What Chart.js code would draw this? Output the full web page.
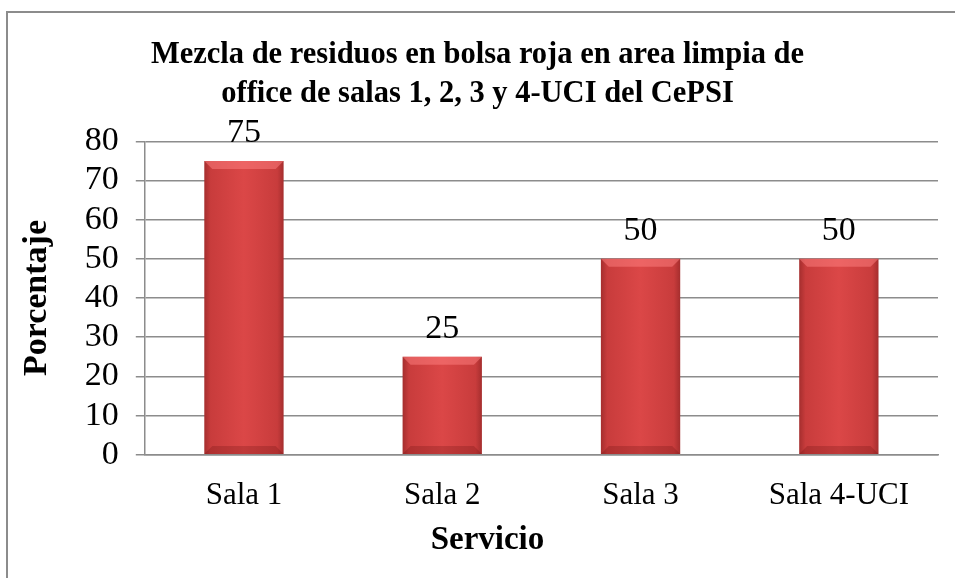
<!DOCTYPE html>
<html>
<head>
<meta charset="utf-8">
<script src="https://cdn.jsdelivr.net/npm/chart.js@4/dist/chart.umd.min.js"></script>
<style>
  html, body { margin: 0; padding: 0; background: #fff; overflow: hidden; }
  #frame { position: absolute; left: 6px; top: 11px; width: 1000px; height: 1000px; border: 2px solid #8c8c8c; box-sizing: border-box; }
  #wrap { position: absolute; left: 0; top: 0; width: 955px; height: 578px; }
</style>
</head>
<body>
<div id="frame"></div>
<div id="wrap"><canvas id="c" width="955" height="578"></canvas></div>
<script>
const categories = ["Sala 1", "Sala 2", "Sala 3", "Sala 4-UCI"];
const values = [75, 25, 50, 50];
const titleLines = ["Mezcla de residuos en bolsa roja en area limpia de", "office de salas 1, 2, 3 y 4-UCI del CePSI"];
const yTitle = "Porcentaje";
const xTitle = "Servicio";

const FONT = "'Liberation Serif', 'Times New Roman', serif";

const barStyle = {
  id: 'barStyle',
  beforeDatasetsDraw(chart) {
    const ctx = chart.ctx;
    chart.getDatasetMeta(0).data.forEach(el => {
      const w = el.width, x0 = el.x - w / 2, x1 = el.x + w / 2;
      const g = ctx.createLinearGradient(x0, 0, x1, 0);
      g.addColorStop(0, '#a52e2e');
      g.addColorStop(0.08, '#c83c3c');
      g.addColorStop(0.5, '#db4747');
      g.addColorStop(0.92, '#c83c3c');
      g.addColorStop(1, '#a52e2e');
      el.options = Object.assign({}, el.options, { backgroundColor: g });
    });
  },
  afterDatasetsDraw(chart) {
    const ctx = chart.ctx;
    const meta = chart.getDatasetMeta(0);
    ctx.save();
    meta.data.forEach((el, i) => {
      const w = el.width, x0 = el.x - w / 2, x1 = el.x + w / 2;
      const top = el.y, bot = el.base;
      const b = 8;
      ctx.fillStyle = 'rgba(255,130,130,0.5)';
      ctx.beginPath();
      ctx.moveTo(x0, top); ctx.lineTo(x1, top); ctx.lineTo(x1 - b, top + b); ctx.lineTo(x0 + b, top + b); ctx.closePath();
      ctx.fill();
      ctx.fillStyle = 'rgba(90,10,10,0.22)';
      ctx.beginPath();
      ctx.moveTo(x0, bot); ctx.lineTo(x1, bot); ctx.lineTo(x1 - b, bot - b); ctx.lineTo(x0 + b, bot - b); ctx.closePath();
      ctx.fill();
      ctx.fillStyle = '#000';
      ctx.font = "34px " + FONT;
      ctx.textAlign = 'center';
      ctx.textBaseline = 'alphabetic';
      ctx.fillText(String(values[i]), el.x, top - 19);
    });
    ctx.restore();
  },
  afterDraw(chart) {
    const ctx = chart.ctx;
    const xs = chart.scales.x;
    ctx.save();
    ctx.fillStyle = '#000';
    ctx.font = "bold 33px " + FONT;
    ctx.textAlign = 'center';
    ctx.textBaseline = 'middle';
    ctx.fillText(xTitle, xs.left + (xs.right - xs.left) * 0.432, chart.height - 38);
    ctx.restore();
  }
};

new Chart(document.getElementById('c'), {
  type: 'bar',
  data: {
    labels: categories,
    datasets: [{
      data: values,
      backgroundColor: '#d04242',
      borderWidth: 0,
      barPercentage: 0.40,
      categoryPercentage: 1.0
    }]
  },
  options: {
    responsive: false,
    animation: false,
    devicePixelRatio: 1,
    layout: { padding: { left: 17, right: 17, top: 0, bottom: 42 } },
    plugins: {
      legend: { display: false },
      tooltip: { enabled: false },
      title: {
        display: true,
        text: titleLines,
        color: '#000',
        font: { family: FONT, size: 30.5, weight: 'bold', lineHeight: 1.3 },
        padding: { top: 35, bottom: 27 }
      }
    },
    scales: {
      y: {
        min: 0, max: 80,
        ticks: { stepSize: 10, autoSkip: false, color: '#000', font: { family: FONT, size: 34 }, padding: 17 },
        grid: { color: '#8c8c8c', lineWidth: 1.5, tickLength: 9, drawTicks: true },
        border: { display: true, color: '#8c8c8c', width: 1.5 },
        title: { display: true, text: yTitle, color: '#000', font: { family: FONT, size: 34, weight: 'bold' }, padding: { top: 0, bottom: 10 } }
      },
      x: {
        ticks: { color: '#000', font: { family: FONT, size: 31 }, padding: 22 },
        grid: { display: false, drawTicks: false },
        border: { display: true, color: '#8c8c8c', width: 1.5 },
        title: { display: false }
      }
    }
  },
  plugins: [barStyle]
});
</script>
</body>
</html>
